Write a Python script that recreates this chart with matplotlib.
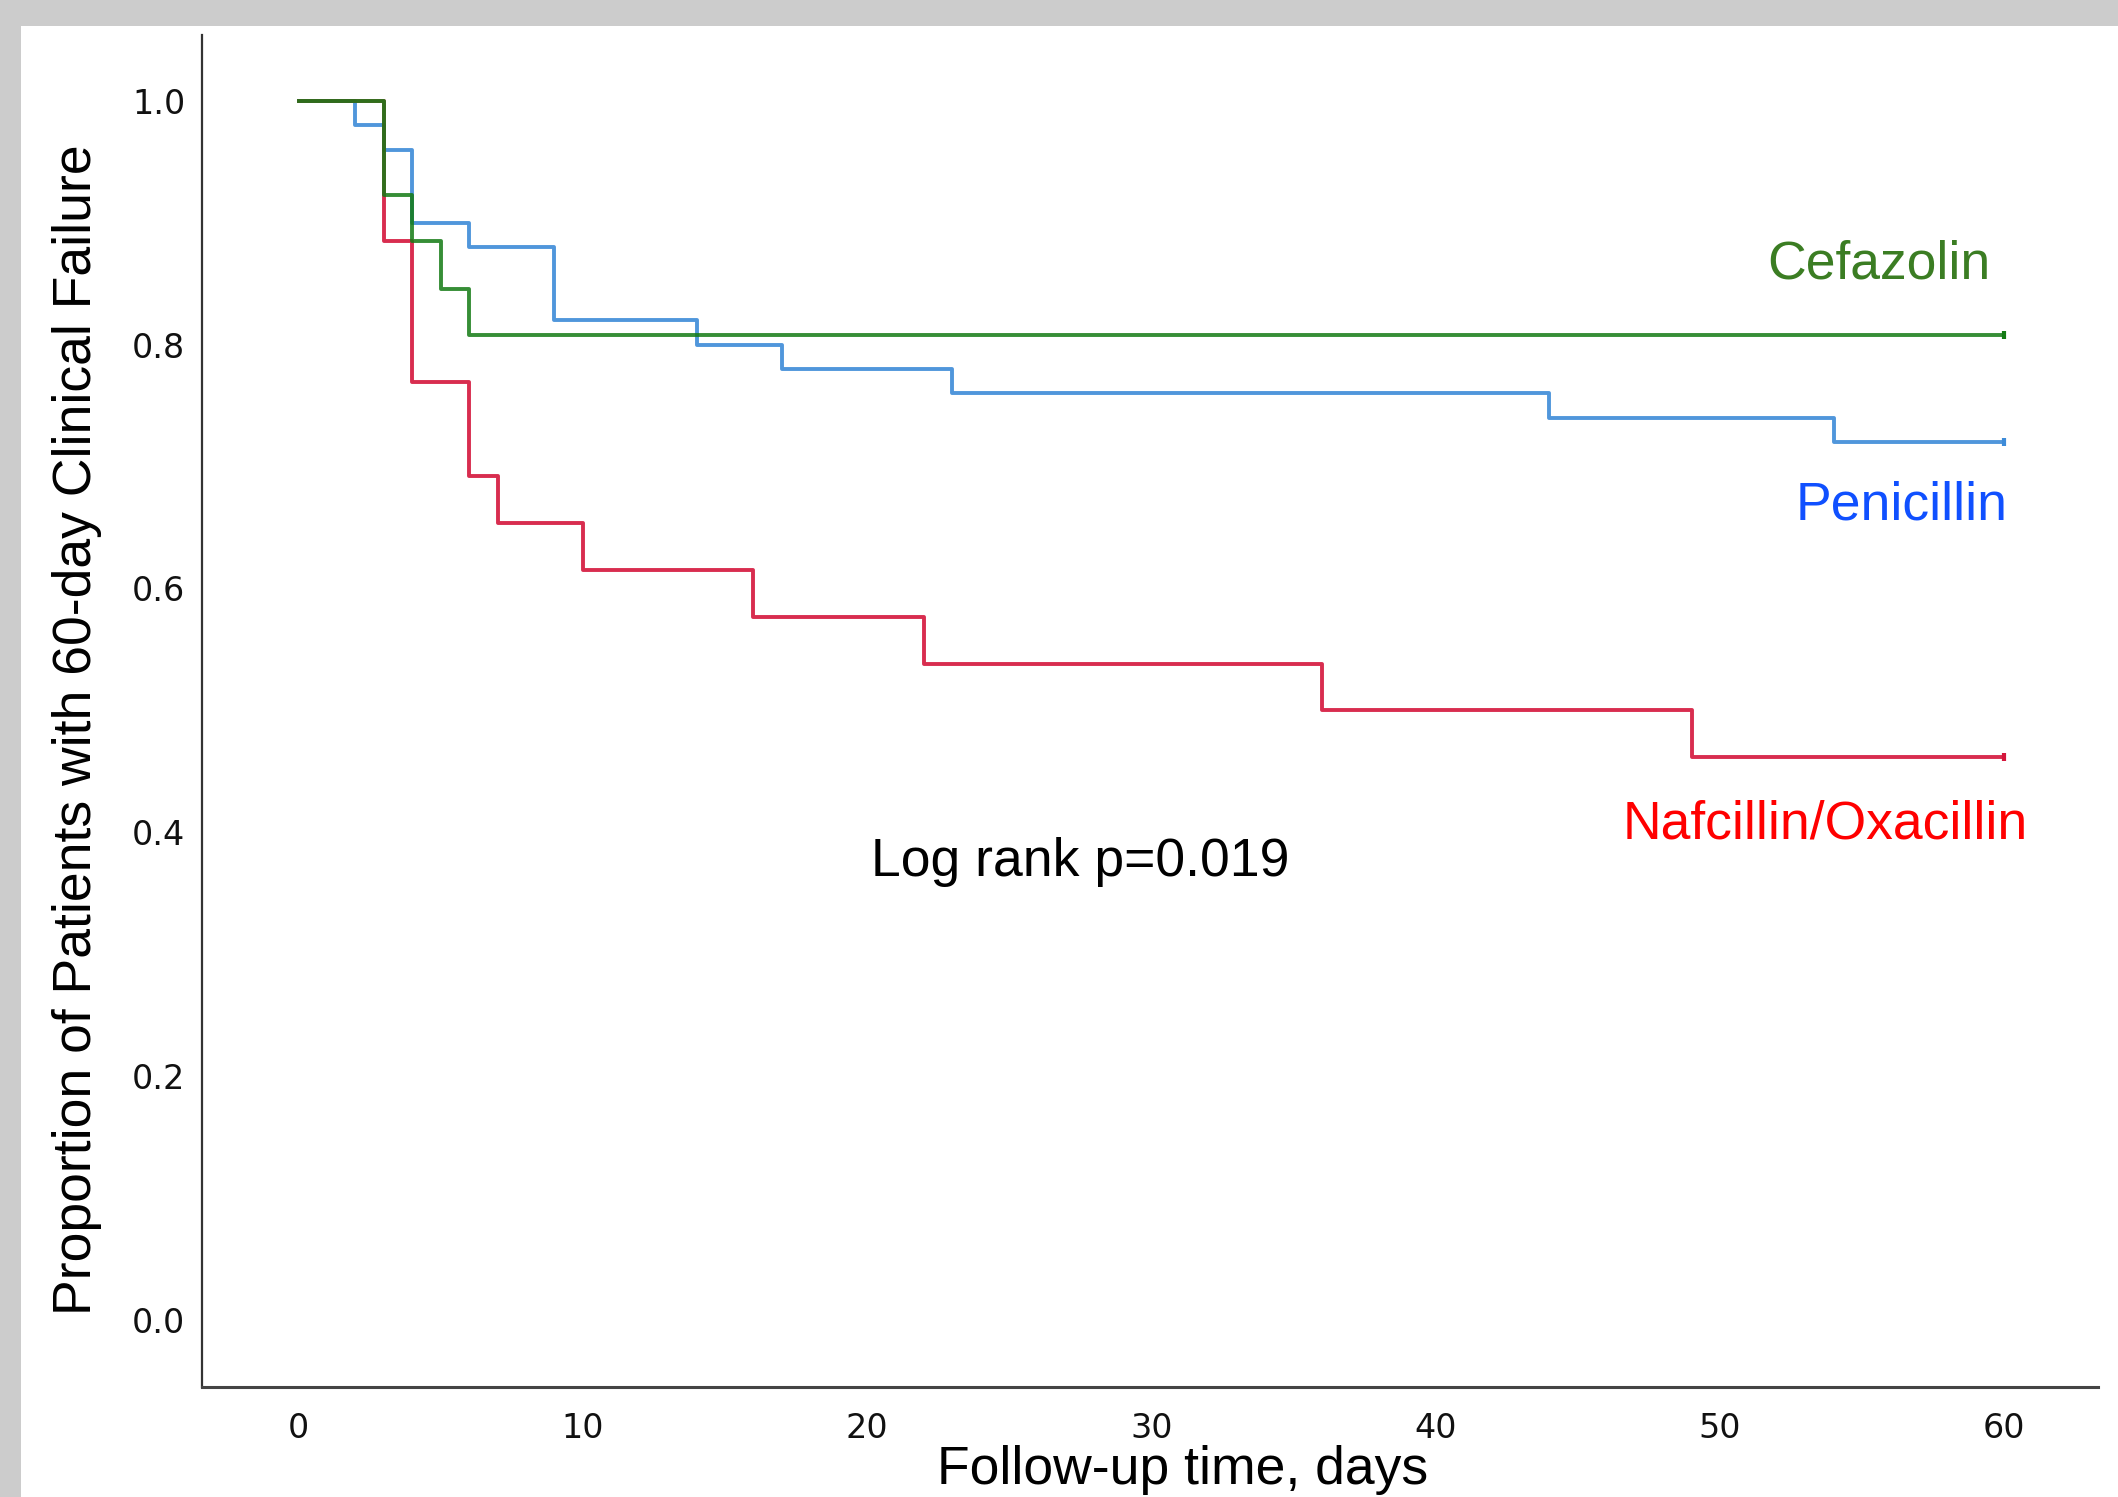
import matplotlib
matplotlib.use("Agg")
import matplotlib.pyplot as plt
from matplotlib.patches import Rectangle

# Kaplan-Meier steps
pen_t = [0, 2, 3, 4, 6, 9, 14, 17, 23, 44, 54, 60]
pen_s = [1.0, 0.98, 0.96, 0.90, 0.88, 0.82, 0.80, 0.78, 0.76, 0.74, 0.72, 0.72]
cef_t = [0, 3, 4, 5, 6, 60]
cef_s = [1.0, 0.923, 0.885, 0.846, 0.808, 0.808]
naf_t = [0, 3, 4, 6, 7, 10, 16, 22, 36, 49, 60]
naf_s = [1.0, 0.885, 0.769, 0.692, 0.654, 0.615, 0.577, 0.538, 0.50, 0.462, 0.462]

xticks = [0, 10, 20, 30, 40, 50, 60]
yticks = [0.0, 0.2, 0.4, 0.6, 0.8, 1.0]

W, H = 2118, 1497
fig = plt.figure(figsize=(W / 100, H / 100), dpi=100)
fig.patch.set_facecolor("#cccccc")
fig.patches.append(Rectangle((21 / W, 0), 1, 1 - 26 / H, transform=fig.transFigure,
                             facecolor="white", edgecolor="none", zorder=-10))

ax = fig.add_axes([202 / W, 1 - 1387 / H, (2098 - 202) / W, (1387 - 35) / H])
ax.set_facecolor("none")

ax.step(pen_t, pen_s, where="post", color="#3d8bd8", linewidth=2.8, alpha=0.9)
ax.step(naf_t, naf_s, where="post", color="#d4163c", linewidth=2.8, alpha=0.9)
ax.step(cef_t, cef_s, where="post", color="#137a13", linewidth=2.8, alpha=0.85)
for t, s, c in [(pen_t, pen_s, "#3d8bd8"), (naf_t, naf_s, "#d4163c"), (cef_t, cef_s, "#137a13")]:
    ax.plot(t[-1], s[-1], marker="|", markersize=6, mew=3, color=c)

ax.set_xlim(-3.4, 63.3)
ax.set_ylim(-0.055, 1.054)
ax.set_xticks(xticks)
ax.set_yticks(yticks)
ax.set_xticklabels([str(v) for v in xticks])
ax.set_yticklabels(["%.1f" % v for v in yticks])
ax.tick_params(length=0, labelsize=24, colors="#111111")
ax.tick_params(axis="y", pad=12)
ax.tick_params(axis="x", pad=18)

for side in ["top", "right"]:
    ax.spines[side].set_visible(False)
ax.spines["left"].set_linewidth(1.6)
ax.spines["bottom"].set_linewidth(2.2)
ax.spines["left"].set_color("#333333")
ax.spines["bottom"].set_color("#444444")

font = ["Liberation Sans", "DejaVu Sans"]
ax.set_xlabel("Follow-up time, days", fontsize=38.5, family=font, va="center")
ax.xaxis.set_label_coords(0.517, -0.0614)
ax.set_ylabel("Proportion of Patients with 60-day Clinical Failure", fontsize=38.5, family=font, va="center")
ax.yaxis.set_label_coords(-0.066, 0.486)

fs = 38.5
ax.text(55.6, 0.866, "Cefazolin", color="#3b7d23", fontsize=fs, family=font, ha="center", va="center")
ax.text(56.4, 0.668, "Penicillin", color="#1050ff", fontsize=fs, family=font, ha="center", va="center")
ax.text(53.7, 0.406, "Nafcillin/Oxacillin", color="#ff0000", fontsize=fs, family=font, ha="center", va="center")
ax.text(27.5, 0.376, "Log rank p=0.019", color="black", fontsize=fs, family=font, ha="center", va="center")

fig.savefig("out.png", dpi=100, facecolor=fig.get_facecolor())
